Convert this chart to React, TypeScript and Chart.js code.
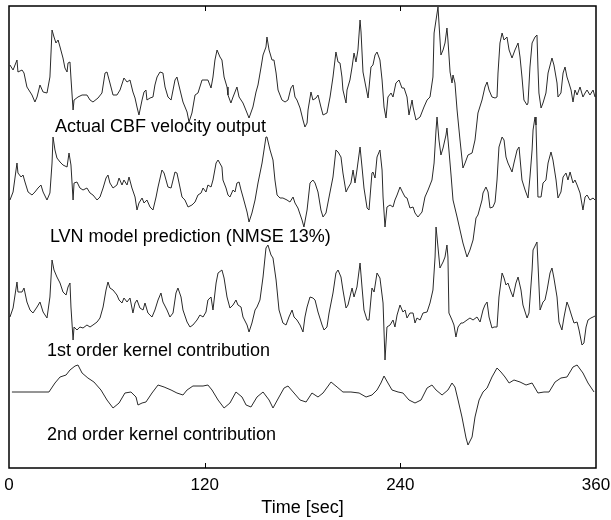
import React, { useEffect, useRef } from "react";
import { Chart, registerables } from "chart.js";

Chart.register(...registerables);

// ---- Data (time in seconds, values in plot units) ----
const actualT = [0.6,2.5,4.9,5.5,8.0,9.2,11.0,14.1,15.9,17.2,19.0,20.9,23.3,25.1,26.4,27.6,28.8,30.1,31.3,33.1,34.3,35.6,36.2,37.4,38.0,39.3,39.9,42.3,44.8,47.8,49.7,51.5,54.6,57.0,58.9,60.1,61.9,63.8,66.2,68.1,70.5,72.4,74.2,76.0,77.3,78.5,79.7,81.6,82.8,84.0,84.6,86.5,88.3,89.5,90.8,92.6,94.4,95.7,97.5,99.4,100.6,101.8,103.0,104.9,106.7,109.2,110.4,112.2,114.1,115.9,118.4,120.2,122.0,123.9,125.1,126.3,127.6,129.4,130.6,131.9,133.7,134.3,136.1,137.4,138.6,139.8,141.1,143.5,146.0,147.2,149.6,151.5,152.7,154.6,155.8,157.6,158.2,159.5,161.3,162.5,163.8,165.0,167.4,169.3,171.1,172.9,174.2,175.4,176.6,178.5,180.3,181.5,182.8,183.4,185.2,186.4,188.3,189.5,191.3,192.6,195.0,196.9,198.7,200.5,201.8,203.0,204.2,204.8,206.7,207.3,209.1,210.4,211.6,212.8,214.0,215.3,215.9,217.1,219.6,220.2,222.0,223.2,224.5,225.7,227.5,228.8,230.0,231.2,232.4,234.3,235.5,237.3,239.2,241.0,242.3,244.1,245.3,247.2,247.8,249.6,252.1,254.5,256.4,258.2,260.0,260.7,261.9,263.1,263.7,264.9,266.2,267.4,268.6,269.2,270.5,271.7,272.3,273.5,274.8,276.6,278.4,279.7,281.5,284.0,285.8,287.6,290.1,291.9,293.2,294.4,296.2,298.1,299.3,299.9,301.1,302.4,303.6,305.4,306.7,308.5,310.3,312.2,313.4,314.6,315.8,317.7,318.3,319.5,320.8,322.6,323.8,324.4,325.0,326.3,327.5,329.3,330.6,333.0,334.2,336.1,336.7,338.5,339.8,341.0,342.2,343.4,344.7,345.9,347.1,348.4,350.2,352.0,353.3,354.5,356.3,358.2,359.4];
const actualV = [403,398,408,396,398,395,381,373,366,371,383,376,375,391,438,431,425,428,421,410,400,396,405,406,390,358,368,371,373,373,368,366,370,375,395,396,385,373,373,378,390,386,388,376,370,361,353,368,376,378,368,370,371,383,391,396,395,381,371,368,378,388,391,378,366,356,346,355,373,375,388,388,388,380,391,408,418,411,408,391,381,373,365,371,376,381,371,365,355,350,361,376,383,401,413,421,431,418,408,408,395,378,368,366,368,380,383,371,368,360,348,341,345,358,376,368,370,373,361,353,355,371,391,416,406,405,391,378,365,378,388,401,415,406,418,448,436,396,375,370,401,403,413,416,408,388,361,350,371,375,371,385,388,380,380,371,353,368,361,348,351,361,368,371,391,435,448,461,445,413,418,425,440,428,396,385,393,385,358,328,300,305,313,315,328,355,368,381,386,378,371,370,371,395,425,435,428,431,418,410,418,425,411,391,368,363,365,401,425,431,433,401,375,360,365,375,395,410,403,385,371,375,395,401,391,385,378,366,378,373,381,371,375,378,373,378,371];

const lvnT = [0.6,2.5,4.9,5.5,7.4,8.6,9.8,11.7,14.1,15.9,17.8,19.6,20.9,23.3,25.1,26.4,27.0,28.2,29.4,31.3,33.1,35.6,36.8,38.0,39.3,39.9,41.7,43.5,45.4,47.8,49.7,51.5,54.0,55.8,57.7,59.5,60.7,61.9,63.8,66.2,67.5,69.3,70.5,72.4,73.6,75.4,77.3,78.5,79.7,81.6,82.8,84.6,86.5,88.3,90.2,91.4,93.8,95.1,96.3,97.5,99.4,100.6,101.8,103.0,104.3,106.1,107.9,109.8,112.2,114.1,115.9,117.8,119.0,120.8,122.0,123.9,125.1,127.0,128.2,130.6,131.2,133.1,134.3,135.5,137.4,138.6,139.8,141.1,142.3,143.5,146.0,147.2,149.0,150.9,152.7,155.2,156.4,157.6,158.2,160.1,161.9,163.1,164.4,166.2,168.0,170.5,172.3,174.2,175.4,177.2,179.7,180.9,182.8,184.6,186.4,187.7,189.5,191.3,192.6,194.4,196.3,198.7,200.5,201.8,203.6,204.8,206.7,207.9,209.7,211.0,212.2,213.4,215.3,216.5,217.7,219.6,220.8,222.6,223.2,224.5,225.7,227.5,228.8,229.4,230.6,231.8,233.7,235.5,236.7,238.0,239.8,241.6,242.9,244.1,245.9,247.8,249.0,250.8,253.3,255.1,257.0,259.4,260.7,261.9,262.5,263.7,264.9,266.2,268.0,268.6,269.8,271.1,272.3,274.8,276.6,278.4,280.9,282.7,284.6,286.4,287.6,290.1,290.7,292.5,293.8,295.0,296.8,298.1,299.3,300.5,302.4,303.6,304.8,306.0,308.5,309.7,311.6,312.8,314.6,316.5,318.3,319.5,320.8,321.4,322.6,323.2,324.4,326.3,327.5,329.3,330.6,332.4,333.6,335.5,336.7,338.5,339.8,341.6,342.8,344.1,345.9,347.1,348.4,350.2,352.0,353.3,354.5,356.3,358.2,359.4];
const lvnV = [268,276,305,295,291,293,286,276,273,276,280,283,276,268,275,305,331,318,310,306,303,301,315,303,268,285,286,280,278,280,275,273,268,271,280,290,293,285,280,283,290,283,288,283,291,280,271,258,265,270,265,268,261,258,271,281,298,295,288,281,280,288,296,295,285,271,268,261,263,266,273,275,280,276,283,281,288,305,308,301,288,280,273,271,278,276,285,286,278,271,256,246,255,268,285,305,318,331,331,318,308,288,273,270,270,268,266,271,265,260,248,241,258,285,288,285,276,258,251,255,271,291,318,316,311,295,276,280,285,298,285,298,321,301,280,260,258,295,296,290,311,318,298,271,241,261,263,261,268,273,281,275,271,270,260,261,255,251,256,271,278,288,305,338,351,328,313,320,333,340,318,293,268,251,238,225,211,218,228,250,253,268,275,281,276,260,261,266,288,321,331,328,311,305,296,305,318,321,288,278,270,291,318,338,351,343,271,271,285,288,305,316,308,288,270,276,291,295,288,296,285,288,283,275,258,271,273,268,270,268];

const firstT = [0.6,2.5,4.9,5.5,8.0,9.2,11.0,12.9,14.7,17.2,19.0,20.9,23.3,25.1,26.4,27.6,29.4,31.3,33.1,35.0,36.2,37.4,38.0,39.3,39.9,41.7,43.5,45.4,47.8,49.7,51.5,54.0,55.8,57.7,59.5,60.7,61.9,63.8,66.2,67.5,69.3,70.5,72.4,74.2,76.0,77.3,78.5,80.3,82.2,83.4,85.2,87.7,89.5,91.4,93.2,94.4,96.9,98.7,100.6,102.4,103.6,105.5,106.7,109.2,111.0,112.8,115.3,117.1,119.0,120.8,122.0,123.9,125.1,127.0,128.2,130.6,131.9,133.7,135.5,137.4,139.2,140.4,142.3,143.5,146.0,147.2,149.0,150.9,152.1,153.9,155.8,157.6,158.8,160.7,161.9,163.8,165.6,168.0,169.9,171.7,173.6,174.8,176.6,178.5,180.3,181.5,182.8,184.6,186.4,187.7,189.5,192.0,193.2,195.0,196.3,198.7,200.5,201.8,203.6,204.8,206.7,207.9,210.4,211.6,213.4,215.3,216.5,217.7,219.6,220.8,222.6,223.9,225.7,227.5,229.4,230.6,231.8,233.7,235.5,236.7,238.0,239.8,241.6,242.9,244.1,245.9,247.8,249.0,250.2,252.1,253.9,256.4,258.2,260.0,261.3,261.9,262.5,264.3,266.2,267.4,268.6,269.2,269.8,271.7,272.9,274.1,275.4,277.2,278.4,280.9,282.7,284.6,287.0,288.9,290.7,291.9,293.2,294.4,296.2,297.5,299.3,300.5,302.4,303.6,304.8,306.0,307.9,309.1,310.9,312.2,314.0,315.2,317.7,318.9,320.8,321.4,323.8,324.4,325.7,327.5,328.7,330.0,331.8,333.0,334.2,336.1,337.3,339.1,340.4,342.2,343.4,345.3,346.5,348.4,349.6,351.4,352.6,353.9,355.1,356.9,358.2,359.4];
const firstV = [151,160,186,176,176,180,166,158,155,161,166,156,150,171,208,198,191,185,176,173,181,185,161,128,141,138,141,140,143,141,143,146,150,161,178,186,180,178,173,168,165,170,166,170,155,165,168,160,158,165,155,151,158,168,175,166,158,151,155,175,180,171,158,146,141,143,148,153,151,156,168,171,158,185,195,198,190,171,160,163,168,163,161,151,143,136,145,158,161,168,191,220,223,213,210,188,158,145,143,151,158,151,148,143,136,151,161,171,170,168,156,143,138,141,155,175,195,198,191,178,160,163,180,171,181,205,181,158,148,148,180,176,195,190,165,108,141,143,148,141,153,163,156,158,150,155,155,145,150,148,155,156,165,178,211,241,231,200,206,211,223,211,155,148,143,131,141,145,145,148,150,148,151,146,158,163,166,151,140,141,141,171,195,190,183,185,176,171,185,191,178,163,150,155,198,218,226,205,158,166,168,178,195,200,190,171,146,138,151,166,161,151,145,146,138,123,125,141,148,150,151,152];

const secondT = [1.8,24.5,28.2,31.3,35.0,37.4,40.5,42.3,44.8,48.4,52.1,56.4,60.1,63.8,67.5,71.1,74.8,77.9,79.1,81.6,84.0,87.7,91.4,95.1,99.4,103.0,106.7,109.2,112.8,119.0,122.0,124.5,128.2,131.9,135.5,139.2,142.9,145.4,148.4,152.1,155.8,159.5,161.9,165.6,168.7,171.1,174.8,178.5,182.2,185.8,189.5,192.6,197.5,201.2,204.8,209.7,214.7,219.0,222.6,225.7,228.1,230.0,232.4,234.9,238.6,241.6,245.3,249.0,252.7,256.4,259.4,261.9,265.6,269.2,271.7,273.5,275.4,277.8,280.3,281.5,284.0,285.8,288.3,290.7,293.2,296.2,299.3,301.7,304.2,306.7,309.7,313.4,317.1,320.8,324.4,328.1,331.2,334.9,338.5,342.2,345.9,348.4,352.0,355.1,358.8];
const secondV = [76,76,85,91,93,98,102,103,95,90,86,78,68,60,65,75,76,71,63,65,66,75,83,81,78,75,73,78,82,82,83,78,68,60,65,76,71,63,61,71,76,68,60,71,80,82,75,68,66,75,71,75,86,81,76,76,75,71,73,78,85,92,85,78,76,75,68,65,68,80,83,78,73,78,85,81,68,51,30,23,31,51,68,76,80,91,100,96,91,85,88,86,83,85,75,76,76,86,90,91,101,103,95,85,76];

const xTicks = [0, 120, 240, 360];

const traceLabels = [
  { text: "Actual CBF velocity output", t: 28.2, v: 341 },
  { text: "LVN model prediction (NMSE 13%)", t: 25.1, v: 231 },
  { text: "1st order kernel contribution", t: 23.3, v: 117 },
  { text: "2nd order kernel contribution", t: 23.3, v: 33 },
];

const FONT = "'Liberation Sans', Arial, Helvetica, sans-serif";

const toPoints = (t: number[], v: number[]) => t.map((x, i) => ({ x, y: v[i] }));

const framePlugin = {
  id: "frame",
  afterDraw(chart: any) {
    const { ctx, chartArea } = chart;
    const xs = chart.scales.x;
    const ys = chart.scales.y;
    ctx.save();
    ctx.fillStyle = "#000";
    ctx.font = `18px ${FONT}`;
    ctx.textBaseline = "middle";
    ctx.textAlign = "left";
    traceLabels.forEach((l) => {
      ctx.fillText(l.text, xs.getPixelForValue(l.t), ys.getPixelForValue(l.v));
    });
    ctx.strokeStyle = "#000";
    ctx.lineWidth = 1.5;
    ctx.strokeRect(chartArea.left, chartArea.top, chartArea.right - chartArea.left, chartArea.bottom - chartArea.top);
    ctx.lineWidth = 1;
    xTicks.slice(1, -1).forEach((t) => {
      const px = Math.round(xs.getPixelForValue(t)) + 0.5;
      ctx.beginPath();
      ctx.moveTo(px, chartArea.bottom);
      ctx.lineTo(px, chartArea.bottom - 5);
      ctx.moveTo(px, chartArea.top);
      ctx.lineTo(px, chartArea.top + 5);
      ctx.stroke();
    });
    ctx.restore();
  },
};

export default function App() {
  const ref = useRef<HTMLCanvasElement>(null);
  useEffect(() => {
    const lineStyle = { borderColor: "#2a2a2a", borderWidth: 1, pointRadius: 0, tension: 0, fill: false };
    const chart = new Chart(ref.current as HTMLCanvasElement, {
      type: "line",
      data: {
        datasets: [
          { label: "Actual CBF velocity output", data: toPoints(actualT, actualV), ...lineStyle },
          { label: "LVN model prediction", data: toPoints(lvnT, lvnV), ...lineStyle },
          { label: "1st order kernel contribution", data: toPoints(firstT, firstV), ...lineStyle },
          { label: "2nd order kernel contribution", data: toPoints(secondT, secondV), ...lineStyle },
        ],
      },
      options: {
        animation: false,
        responsive: false,
        layout: { padding: { left: 9, right: 15, top: 6, bottom: 0 } },
        plugins: { legend: { display: false }, tooltip: { enabled: false } },
        scales: {
          x: {
            type: "linear",
            min: 0,
            max: 360,
            border: { display: false },
            grid: { display: false, drawTicks: false },
            afterBuildTicks: (s: any) => {
              s.ticks = xTicks.map((value) => ({ value }));
            },
            ticks: { color: "#000", font: { family: FONT, size: 17 }, padding: 7, maxRotation: 0, autoSkip: false },
            title: {
              display: true,
              text: "Time [sec]",
              color: "#000",
              font: { family: FONT, size: 18 },
              padding: { top: 0, bottom: 1 },
            },
            afterFit: (s: any) => {
              s.height = 52;
              s.paddingLeft = 0;
              s.paddingRight = 0;
            },
          },
          y: { display: false, min: 0, max: 462 },
        },
      },
      plugins: [framePlugin],
    } as any);
    return () => chart.destroy();
  }, []);
  return (
    <div style={{ position: "absolute", left: 0, top: 0, width: 611, height: 520, background: "#fff" }}>
      <canvas ref={ref} width={611} height={520} />
    </div>
  );
}
